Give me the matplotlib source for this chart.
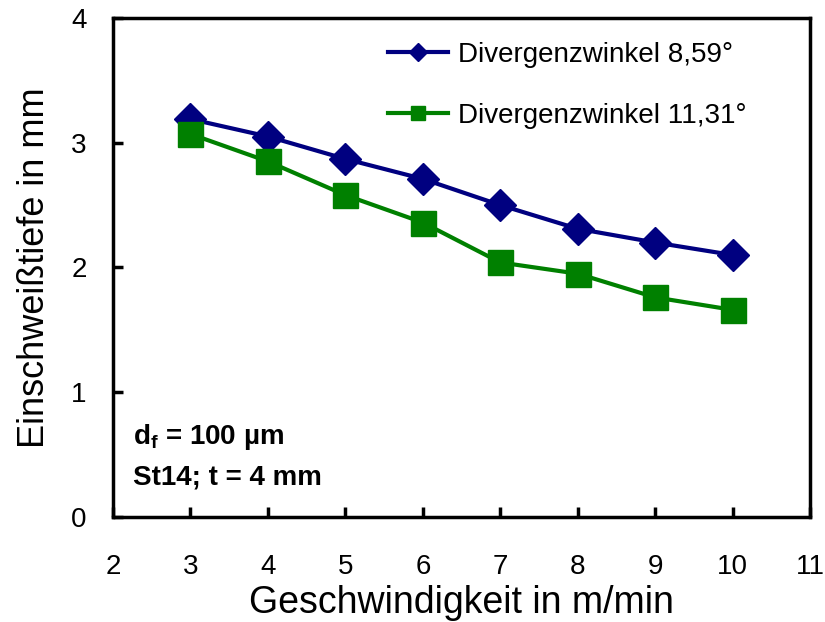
import matplotlib
matplotlib.use("Agg")
import matplotlib.pyplot as plt

# Einschweißtiefe über Schweißgeschwindigkeit für zwei Divergenzwinkel
geschwindigkeit = [3, 4, 5, 6, 7, 8, 9, 10]
tiefe_859 = [3.19, 3.05, 2.87, 2.71, 2.50, 2.31, 2.20, 2.10]
tiefe_1131 = [3.07, 2.85, 2.58, 2.36, 2.04, 1.95, 1.76, 1.66]

label_859 = "Divergenzwinkel 8,59°"
label_1131 = "Divergenzwinkel 11,31°"
x_ticks = [2, 3, 4, 5, 6, 7, 8, 9, 10, 11]
y_ticks = [0, 1, 2, 3, 4]

plt.rcParams["font.family"] = ["Liberation Sans", "DejaVu Sans"]
plt.rcParams["mathtext.fontset"] = "custom"
plt.rcParams["mathtext.rm"] = "Liberation Sans"
plt.rcParams["mathtext.bf"] = "Liberation Sans:bold"

fig = plt.figure(figsize=(8.25, 6.22), dpi=100)
ax = fig.add_axes([0.137, 0.169, 0.845, 0.802])

ax.plot(geschwindigkeit, tiefe_859, color="#000080", linewidth=3,
        marker="D", markersize=16, label=label_859)
ax.plot(geschwindigkeit, tiefe_1131, color="#008000", linewidth=3,
        marker="s", markersize=18, label=label_1131)

ax.set_xlim(2, 11)
ax.set_ylim(0, 4)
ax.set_xticks(x_ticks)
ax.set_yticks(y_ticks)
ax.tick_params(direction="in", length=7, width=2.5, labelsize=20)
ax.tick_params(axis="x", pad=27)
ax.tick_params(axis="y", pad=19)
for s in ax.spines.values():
    s.set_linewidth(2.5)

ax.set_xlabel("Geschwindigkeit in m/min", fontsize=27, labelpad=3)
ax.set_ylabel("Einschweißtiefe in mm", fontsize=26, labelpad=14)

ax.legend(loc="upper right", bbox_to_anchor=(0.924, 0.974), frameon=False,
          fontsize=20, markerscale=0.55, handlelength=2.15, labelspacing=1.25,
          borderaxespad=0, handletextpad=0.35)

ax.text(0.028, 0.161, r"$\mathbf{d_f}$ = 100 µm", transform=ax.transAxes,
        fontsize=20, fontweight="bold", va="center")
ax.text(0.028, 0.078, "St14; t = 4 mm", transform=ax.transAxes,
        fontsize=20, fontweight="bold", va="center")

fig.savefig("out.png", dpi=100)
